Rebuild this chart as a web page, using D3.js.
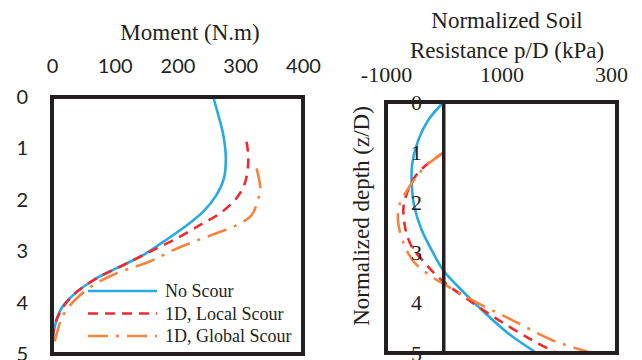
<!DOCTYPE html>
<html>
<head>
<meta charset="utf-8">
<script src="https://cdn.jsdelivr.net/npm/d3@7"></script>
<style>
    body { margin: 0; background: #fff; }
    svg { display: block; }
</style>
</head>
<body>
<svg width="642" height="360"></svg>
<script>
// moment profiles (depth z/D vs moment N.m)
var depthNoScour = [0, 0.35, 0.74, 1.19, 1.58, 1.91, 2.23, 2.55, 2.82, 3.07, 3.33, 3.56, 3.85, 4.11, 4.44, 4.76, 5];
var momentNoScour = [257, 265, 273, 277, 274, 262, 241, 209, 177, 146, 103, 66, 34, 15, 5, 1, 0];

var depthLocal = [0.87, 1.19, 1.65, 1.97, 2.26, 2.49, 2.75, 3.01, 3.27, 3.53, 3.85, 4.18, 4.5, 4.8, 5];
var momentLocal = [310, 313, 308, 294, 268, 236, 199, 156, 114, 71, 34, 13, 3, 1, 0];

var depthGlobal = [1.39, 1.78, 1.97, 2.3, 2.46, 2.55, 2.65, 2.82, 2.98, 3.2, 3.43, 3.66, 3.92, 4.24, 4.63, 5];
var momentGlobal = [326, 332, 329, 318, 300, 284, 262, 225, 193, 156, 103, 66, 39, 18, 7, 0];

// soil resistance profiles (depth z/D vs p/D kPa)
var depthPNoScour = [0, 0.36, 0.76, 1.22, 1.62, 2.08, 2.55, 2.95, 3.35, 3.75, 4.14, 4.61, 5];
var pNoScour = [0, -268, -441, -545, -555, -510, -382, -209, -8, 311, 657, 1118, 1610];

var depthPLocal = [1.01, 1.22, 1.49, 1.89, 2.15, 2.55, 2.88, 3.21, 3.55, 3.94, 4.34, 4.74, 5];
var pLocal = [0, -268, -498, -659, -700, -659, -555, -325, -35, 425, 945, 1523, 1955];

var depthPGlobal = [1.01, 1.29, 1.62, 1.89, 2.08, 2.42, 2.88, 3.21, 3.48, 3.68, 4.01, 4.34, 4.74, 5];
var pGlobal = [0, -325, -555, -700, -775, -787, -671, -498, -209, 79, 598, 1177, 1870, 2562];

var momentTicks = [0, 100, 200, 300, 400];
var depthTicks = [0, 1, 2, 3, 4, 5];
var pTicks = [-1000, 1000, 3000];
var pTickLabels = ["-1000", "1000", "300"];

var seriesNames = ["No Scour", "1D, Local Scour", "1D, Global Scour"];
var colors = ["#27AAE1", "#EE2A30", "#F5843F"];
var dashes = [null, "10,7", "20,8,3,8"];

var svg = d3.select("svg");
var ink = "#231F20";
var serif = "'Liberation Serif', 'DejaVu Serif', serif";
var sans = "Lato, 'Open Sans', sans-serif";

function zip(xs, ys) {
    return xs.map(function (v, i) { return [v, ys[i]]; });
}

// ---------- left panel: moment ----------
var xM = d3.scaleLinear().domain([0, 400]).range([52, 303]);
var yM = d3.scaleLinear().domain([0, 5]).range([97, 354]);

svg.append("g")
    .attr("transform", "translate(0,80)")
    .call(d3.axisTop(xM).tickValues(momentTicks).tickSize(0).tickPadding(7))
    .call(function (g) { g.select(".domain").remove(); })
    .selectAll("text")
    .attr("font-family", sans)
    .attr("font-size", 20)
    .attr("fill", ink);

svg.append("g")
    .attr("transform", "translate(30,0)")
    .call(d3.axisLeft(yM).tickValues(depthTicks).tickFormat(d3.format("d")).tickSize(0).tickPadding(2))
    .call(function (g) { g.select(".domain").remove(); })
    .selectAll("text")
    .attr("font-family", sans)
    .attr("font-size", 20)
    .attr("fill", ink);

svg.append("text")
    .attr("x", 190).attr("y", 40)
    .attr("text-anchor", "middle")
    .attr("font-family", serif).attr("font-size", 23)
    .attr("fill", ink)
    .text("Moment (N.m)");

var lineM = d3.line()
    .x(function (d) { return xM(d[1]); })
    .y(function (d) { return yM(d[0]); })
    .curve(d3.curveCatmullRom);

var momentSeries = [zip(depthNoScour, momentNoScour), zip(depthLocal, momentLocal), zip(depthGlobal, momentGlobal)];

svg.append("g").selectAll("path").data(momentSeries).enter().append("path")
    .attr("d", lineM)
    .attr("fill", "none")
    .attr("stroke", function (d, i) { return colors[i]; })
    .attr("stroke-width", 2.6)
    .attr("stroke-dasharray", function (d, i) { return dashes[i]; });

svg.append("rect")
    .attr("x", xM(0)).attr("y", yM(0))
    .attr("width", xM(400) - xM(0)).attr("height", yM(5) - yM(0))
    .attr("fill", "none").attr("stroke", ink).attr("stroke-width", 4);

// legend
var legend = svg.append("g").selectAll("g").data(seriesNames).enter().append("g")
    .attr("transform", function (d, i) { return "translate(88," + (291 + i * 22.5) + ")"; });

legend.append("line")
    .attr("x1", 0).attr("x2", 69)
    .attr("stroke", function (d, i) { return colors[i]; })
    .attr("stroke-width", 2.6)
    .attr("stroke-dasharray", function (d, i) { return dashes[i]; });

legend.append("text")
    .attr("x", 77).attr("y", 6)
    .attr("font-family", serif).attr("font-size", 18)
    .attr("fill", ink)
    .text(function (d) { return d; });

// ---------- right panel: soil resistance ----------
var xP = d3.scaleLinear().domain([-1000, 3000]).range([386, 617]);
var yP = d3.scaleLinear().domain([0, 5]).range([102, 353]);

svg.append("g")
    .attr("transform", "translate(0,82)")
    .call(d3.axisTop(xP).tickValues(pTicks).tickSize(0).tickPadding(0)
        .tickFormat(function (d, i) { return pTickLabels[i]; }))
    .call(function (g) { g.select(".domain").remove(); })
    .selectAll("text")
    .attr("font-family", serif)
    .attr("font-size", 22)
    .attr("fill", ink)
    .attr("x", function (d, i) { return i === 2 ? -6 : 0; });

svg.append("text")
    .attr("x", 507).attr("text-anchor", "middle")
    .attr("font-family", serif).attr("font-size", 23)
    .attr("fill", ink)
    .selectAll("tspan").data(["Normalized Soil", "Resistance p/D (kPa)"]).enter().append("tspan")
    .attr("x", 507)
    .attr("y", function (d, i) { return 28 + i * 30; })
    .text(function (d) { return d; });

svg.append("text")
    .attr("transform", "translate(369,216) rotate(-90)")
    .attr("text-anchor", "middle")
    .attr("font-family", serif).attr("font-size", 23)
    .attr("fill", ink)
    .text("Normalized depth (z/D)");

var lineP = d3.line()
    .x(function (d) { return xP(d[1]); })
    .y(function (d) { return yP(d[0]); })
    .curve(d3.curveCatmullRom);

var pSeries = [zip(depthPNoScour, pNoScour), zip(depthPLocal, pLocal), zip(depthPGlobal, pGlobal)];

svg.append("g").selectAll("path").data(pSeries).enter().append("path")
    .attr("d", lineP)
    .attr("fill", "none")
    .attr("stroke", function (d, i) { return colors[i]; })
    .attr("stroke-width", 2.6)
    .attr("stroke-dasharray", function (d, i) { return dashes[i]; });

svg.append("rect")
    .attr("x", xP(-1000)).attr("y", yP(0))
    .attr("width", xP(3000) - xP(-1000)).attr("height", yP(5) - yP(0))
    .attr("fill", "none").attr("stroke", ink).attr("stroke-width", 4);

svg.append("line")
    .attr("x1", xP(0)).attr("x2", xP(0))
    .attr("y1", yP(0)).attr("y2", yP(5))
    .attr("stroke", ink).attr("stroke-width", 3.5);

// depth labels sit inside the right box
svg.append("g")
    .attr("transform", "translate(422,0)")
    .call(d3.axisLeft(yP).tickValues(depthTicks).tickFormat(d3.format("d")).tickSize(0).tickPadding(0))
    .call(function (g) { g.select(".domain").remove(); })
    .selectAll("text")
    .attr("font-family", serif)
    .attr("font-size", 22)
    .attr("fill", ink);
</script>
</body>
</html>
